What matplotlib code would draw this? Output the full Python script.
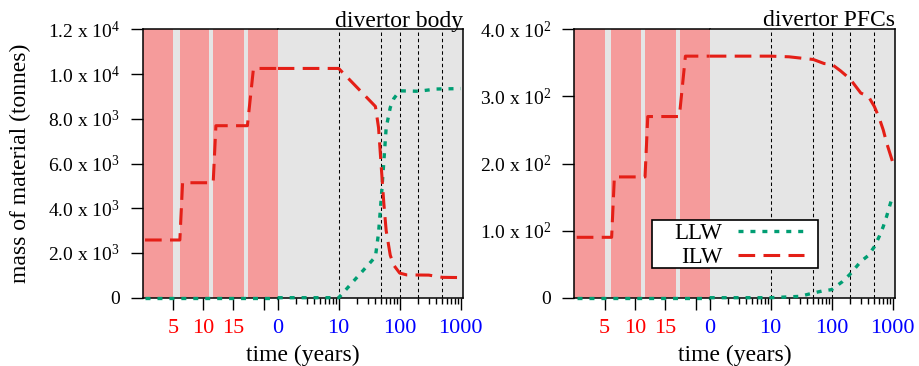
import matplotlib
matplotlib.use("Agg")
import matplotlib.pyplot as plt
from matplotlib.patches import Rectangle
from matplotlib.ticker import FixedLocator, LogLocator, NullFormatter

plt.rcParams['font.family'] = ['Liberation Serif', 'DejaVu Serif']
plt.rcParams['mathtext.fontset'] = 'custom'
plt.rcParams['mathtext.rm'] = 'Liberation Serif'
plt.rcParams['mathtext.it'] = 'Liberation Serif:italic'
plt.rcParams['mathtext.bf'] = 'Liberation Serif:bold'
plt.rcParams['lines.scale_dashes'] = False

# ---------------- data ----------------
# operation phase (years of operation)
T_OP = 22.3
op_block_start = [0.0, 6.1, 11.7, 17.4]
op_block_end = [5.05, 11.0, 16.75, 22.3]
op_ticks = [5, 10, 15, 20]
op_tick_labels = ["5", "10", "15", ""]

op_years = [0.4, 6.15, 6.6, 11.65, 12.1, 17.3, 18.3, 22.3]
body_ilw_op = [2580, 2580, 5140, 5140, 7690, 7690, 10250, 10250]
body_llw_op = [0, 0, 0, 0, 0, 0, 0, 0]
pfc_ilw_op = [90, 90, 180, 180, 270, 270, 360, 360]
pfc_llw_op = [0, 0, 0, 0, 0, 0, 0, 0]

# cooling phase (years after shutdown; 1 is shown as "0")
cool_ticks = [1, 10, 100, 1000]
cool_tick_labels = ["0", "10", "100", "1000"]
cool_markers = [10, 50, 100, 200, 500]

body_ilw_t = [1, 10, 40, 45, 50, 55, 60, 70, 80, 100, 130, 300, 500, 1000]
body_ilw = [10250, 10250, 8550, 7600, 5800, 4200, 3000, 1900, 1450, 1100, 1020, 1010, 910, 900]
body_llw_t = [1, 10, 40, 45, 50, 55, 60, 70, 80, 100, 200, 400, 1000]
body_llw = [0, 0, 1830, 2900, 4500, 6100, 7600, 8500, 8900, 9250, 9230, 9330, 9350]

pfc_ilw_t = [1, 10, 20, 50, 75, 100, 140, 200, 300, 400, 500, 600, 700, 800, 1000]
pfc_ilw = [360, 360, 359, 355, 349, 348, 338, 326, 305, 300, 285, 268, 250, 230, 202]
pfc_llw_t = [1, 10, 30, 50, 70, 100, 150, 200, 300, 400, 500, 600, 700, 800, 900, 1000]
pfc_llw = [0, 0, 2, 7, 10, 12, 24, 35, 54, 63, 76, 91, 106, 122, 138, 152]

body_yticks = [0, 2000, 4000, 6000, 8000, 10000, 12000]
body_ylabels = ["0", "2.0 x 10$^{3}$", "4.0 x 10$^{3}$", "6.0 x 10$^{3}$",
                "8.0 x 10$^{3}$", "1.0 x 10$^{4}$", "1.2 x 10$^{4}$"]
pfc_yticks = [0, 100, 200, 300, 400]
pfc_ylabels = ["0", "1.0 x 10$^{2}$", "2.0 x 10$^{2}$", "3.0 x 10$^{2}$", "4.0 x 10$^{2}$"]

# ---------------- style ----------------
W, H = 919, 366
RED_BLOCK = '#f59b9b'
BG = '#e5e5e5'
RED = '#e41f17'
GREEN = '#009e73'
ILW_STYLE = dict(color=RED, lw=2.2, dashes=(12, 6), dash_capstyle='butt')
LLW_STYLE = dict(color=GREEN, lw=2.4, dashes=(3.6, 5.0), dash_capstyle='butt')

fig = plt.figure(figsize=(W / 100, H / 100), dpi=100)


def fx(px):
    return px / W


def fy(py):
    return 1 - py / H


ybot = (H - 297.7) / H
yh = (297.7 - 29.3) / H

panels = [
    dict(op=(142.6, 277.7), cool=(277.7, 462.7), title="divertor body",
         ilw_op=body_ilw_op, llw_op=body_llw_op,
         ilw_t=body_ilw_t, ilw=body_ilw, llw_t=body_llw_t, llw=body_llw,
         ylim=(0, 12000), yticks=body_yticks, ylabels=body_ylabels),
    dict(op=(574.3, 709.7), cool=(709.7, 895.3), title="divertor PFCs",
         ilw_op=pfc_ilw_op, llw_op=pfc_llw_op,
         ilw_t=pfc_ilw_t, ilw=pfc_ilw, llw_t=pfc_llw_t, llw=pfc_llw,
         ylim=(0, 400), yticks=pfc_yticks, ylabels=pfc_ylabels),
]

handles = None
for i, p in enumerate(panels):
    x0, x1 = p['op']
    c0, c1 = p['cool']
    ax_op = fig.add_axes([fx(x0), ybot, fx(x1 - x0), yh])
    ax_c = fig.add_axes([fx(c0), ybot, fx(c1 - c0), yh], sharey=ax_op)
    for ax in (ax_op, ax_c):
        ax.set_facecolor(BG)
        for s in ax.spines.values():
            s.set_linewidth(1.1)
        ax.tick_params(axis='both', which='major', direction='out', length=8.5, width=1.0)
        ax.tick_params(axis='both', which='minor', direction='out', length=4.3, width=1.0)
    ax_op.spines['right'].set_visible(False)
    ax_c.spines['left'].set_visible(False)

    # operation phase
    ax_op.set_xlim(0, T_OP)
    for s0, s1 in zip(op_block_start, op_block_end):
        ax_op.axvspan(s0, s1, color=RED_BLOCK, lw=0, zorder=0.5)
    ax_op.plot(op_years, p['llw_op'], **LLW_STYLE, zorder=3, clip_on=False)
    ax_op.plot(op_years, p['ilw_op'], **ILW_STYLE, zorder=3)
    ax_op.xaxis.set_major_locator(FixedLocator(op_ticks))
    ax_op.set_xticklabels(op_tick_labels)
    ax_op.tick_params(axis='x', labelsize=16, labelcolor='#ff0000', pad=7)
    ax_op.set_ylim(*p['ylim'])
    ax_op.set_yticks(p['yticks'])
    ax_op.set_yticklabels(p['ylabels'])
    ax_op.tick_params(axis='y', labelsize=14, pad=8)

    # cooling phase
    ax_c.set_xscale('log')
    ax_c.set_xlim(1, 10 ** ((c1 - c0) / 61.0))
    for m in cool_markers:
        ax_c.axvline(m, color='black', lw=0.75, dashes=(2.5, 2.0), zorder=1)
    l_llw, = ax_c.plot(p['llw_t'], p['llw'], **LLW_STYLE, zorder=3, label='LLW', clip_on=False)
    l_ilw, = ax_c.plot(p['ilw_t'], p['ilw'], **ILW_STYLE, zorder=3, label='ILW')
    ax_c.xaxis.set_major_locator(FixedLocator(cool_ticks))
    ax_c.set_xticklabels(cool_tick_labels)
    ax_c.xaxis.set_minor_locator(LogLocator(base=10, subs=[2, 3, 4, 5, 6, 7, 8, 9], numticks=20))
    ax_c.xaxis.set_minor_formatter(NullFormatter())
    ax_c.tick_params(axis='x', labelsize=16, labelcolor='#0000ff', pad=7)
    ax_c.tick_params(axis='y', which='both', left=False, labelleft=False)
    handles = [l_llw, l_ilw]

    fig.text(fx(c1), fy(26.5), p['title'], ha='right', va='baseline', fontsize=17)
    fig.text(fx((x0 + c1) / 2), fy(361), "time (years)", ha='center', va='baseline', fontsize=17)

fig.text(fx(20.5), fy(163.5), "mass of material (tonnes)", rotation=90,
         ha='center', va='center', fontsize=17)

# legend frame (drawn separately to get the wider horizontal padding)
frame = Rectangle((fx(651.7), fy(268.3)), fx(818.3 - 651.7), (268.3 - 220) / H,
                  transform=fig.transFigure, facecolor='white', edgecolor='black',
                  lw=1.2, zorder=5)
fig.patches.append(frame)

leg = fig.legend(handles, ['LLW', 'ILW'], loc='upper right',
                 bbox_to_anchor=(fx(806), fy(221)), borderaxespad=0,
                 markerfirst=False, frameon=False,
                 fontsize=16.5, handlelength=2.85, handletextpad=0.7,
                 labelspacing=0.1, borderpad=0.1)
leg.set_zorder(10)

fig.savefig("out.png", dpi=100)
